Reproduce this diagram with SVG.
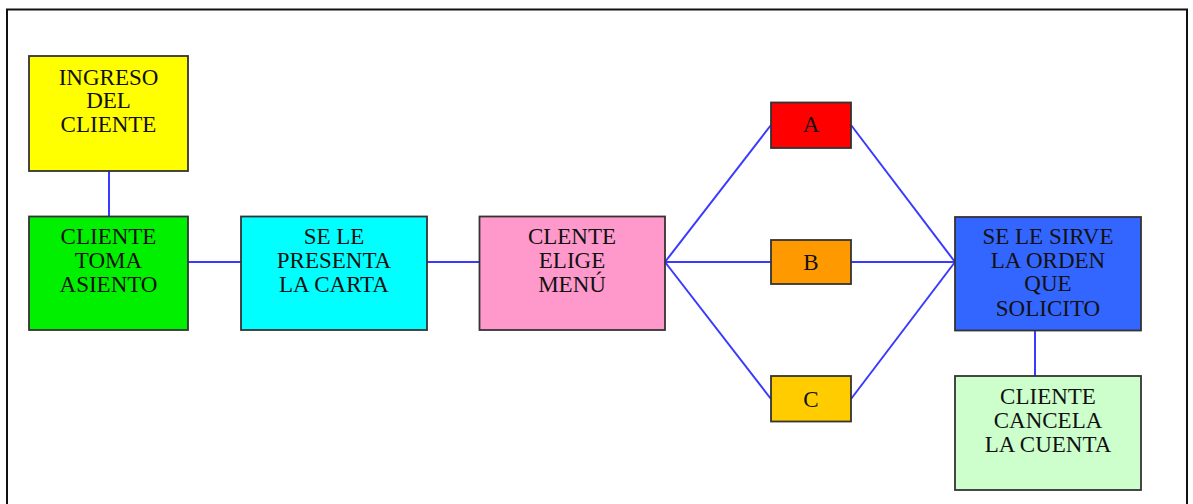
<svg xmlns="http://www.w3.org/2000/svg" width="1193" height="504" viewBox="0 0 1193 504">
  <style>
    .box { stroke: #333333; stroke-width: 1.8; }
    .lbl { font-family: "Liberation Serif", "Times New Roman", serif; font-size: 23px; fill: #111111; text-anchor: middle; }
    .link { stroke: #3a3aff; stroke-width: 2; fill: none; }
  </style>
  <rect width="1193" height="504" fill="#ffffff"/>
  <!-- page frame -->
  <rect x="7" y="9.5" width="1180" height="510" fill="none" stroke="#111111" stroke-width="2"/>

  <g id="connectors">
    <line class="link" x1="109" y1="171" x2="109" y2="216.5"/>
    <line class="link" x1="188" y1="262" x2="241" y2="262"/>
    <line class="link" x1="427" y1="262" x2="479.5" y2="262"/>
    <line class="link" x1="665" y1="262" x2="771" y2="125"/>
    <line class="link" x1="665" y1="262" x2="771" y2="262"/>
    <line class="link" x1="665" y1="262" x2="771" y2="399"/>
    <line class="link" x1="851" y1="125" x2="955" y2="262"/>
    <line class="link" x1="851" y1="262" x2="955" y2="262"/>
    <line class="link" x1="851" y1="399" x2="955" y2="262"/>
    <line class="link" x1="1035" y1="330.5" x2="1035" y2="376"/>
  </g>

  <g id="ingreso">
    <rect class="box" x="29" y="56" width="159" height="115" fill="#ffff00"/>
    <text class="lbl" x="108.5" y="85">INGRESO</text>
    <text class="lbl" x="108.5" y="108.3">DEL</text>
    <text class="lbl" x="108.5" y="131.7">CLIENTE</text>
  </g>

  <g id="toma-asiento">
    <rect class="box" x="29" y="216.5" width="159" height="113.5" fill="#00f000"/>
    <text class="lbl" x="108.5" y="244">CLIENTE</text>
    <text class="lbl" x="108.5" y="268">TOMA</text>
    <text class="lbl" x="108.5" y="291.7">ASIENTO</text>
  </g>

  <g id="carta">
    <rect class="box" x="241" y="216.5" width="186" height="113.5" fill="#00ffff"/>
    <text class="lbl" x="334" y="244">SE LE</text>
    <text class="lbl" x="334" y="268">PRESENTA</text>
    <text class="lbl" x="334" y="291.7">LA CARTA</text>
  </g>

  <g id="elige-menu">
    <rect class="box" x="479.5" y="216.5" width="185.5" height="113.5" fill="#ff99cc"/>
    <text class="lbl" x="572" y="244">CLENTE</text>
    <text class="lbl" x="572" y="268">ELIGE</text>
    <text class="lbl" x="572" y="291.7">MENÚ</text>
  </g>

  <g id="opcion-a">
    <rect class="box" x="771" y="102.5" width="80" height="45.5" fill="#ff0000"/>
    <text class="lbl" x="811" y="132.3">A</text>
  </g>

  <g id="opcion-b">
    <rect class="box" x="771" y="240" width="80" height="44" fill="#ff9900"/>
    <text class="lbl" x="811" y="270">B</text>
  </g>

  <g id="opcion-c">
    <rect class="box" x="771" y="376" width="80" height="45.5" fill="#ffcc00"/>
    <text class="lbl" x="811" y="406.7">C</text>
  </g>

  <g id="sirve-orden">
    <rect class="box" x="955" y="217" width="186" height="113.5" fill="#3366ff"/>
    <text class="lbl" x="1048" y="244">SE LE SIRVE</text>
    <text class="lbl" x="1048" y="268">LA ORDEN</text>
    <text class="lbl" x="1048" y="291.3">QUE</text>
    <text class="lbl" x="1048" y="315.5">SOLICITO</text>
  </g>

  <g id="cancela-cuenta">
    <rect class="box" x="955" y="376" width="186" height="114" fill="#ccffcc"/>
    <text class="lbl" x="1048" y="404">CLIENTE</text>
    <text class="lbl" x="1048" y="428">CANCELA</text>
    <text class="lbl" x="1048" y="451.7">LA CUENTA</text>
  </g>
</svg>
